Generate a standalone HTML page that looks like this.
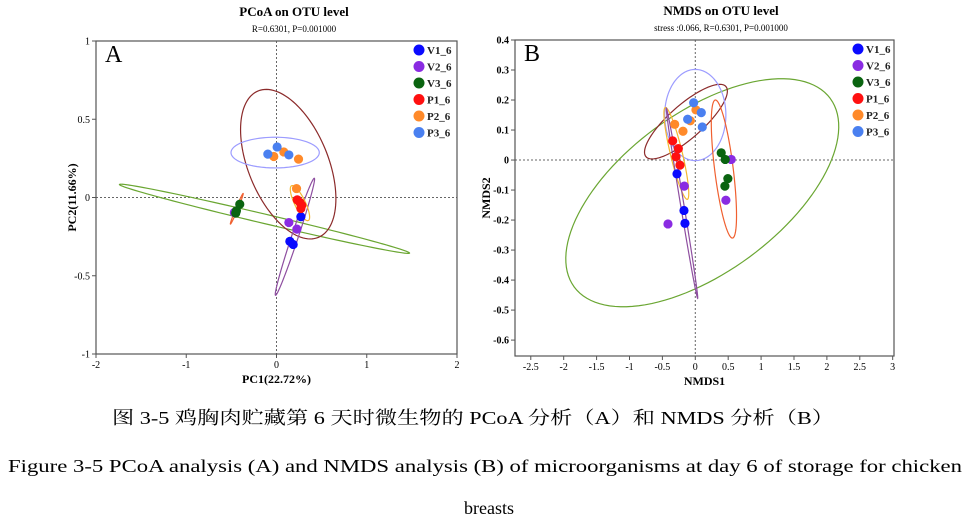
<!DOCTYPE html>
<html><head><meta charset="utf-8"><style>
html,body{margin:0;padding:0;background:#fff;}
svg{display:block;font-family:"Liberation Serif","Noto Serif CJK SC",serif;}
</style></head><body>
<svg id="fig" width="978" height="520" viewBox="0 0 978 520">
<g id="chartA"></g>
<g id="chartB"></g>
<text x="473" y="424" text-anchor="middle" font-size="18" textLength="722" lengthAdjust="spacingAndGlyphs">图 3-5  鸡胸肉贮藏第 6 天时微生物的 PCoA 分析（A）和 NMDS 分析（B）</text>
<text x="485" y="472" text-anchor="middle" font-size="18" textLength="954" lengthAdjust="spacingAndGlyphs">Figure 3-5 PCoA analysis (A) and NMDS analysis (B) of microorganisms at day 6 of storage for chicken</text>
<text x="489" y="514" text-anchor="middle" font-size="18">breasts</text>
</svg>
<script>
const groups = ["V1_6","V2_6","V3_6","P1_6","P2_6","P3_6"];
const groupColors = ["#0a0aff","#8a2be2","#0a6410","#ff1010","#ff8a2a","#4a80f0"];
// PCoA points
const pcoaX = [0.27,0.148,0.185, 0.137,0.226,-0.467, -0.407,-0.444,-0.452, 0.23,0.26,0.28,0.27, -0.03,0.081,0.244,0.222, -0.096,0.007,0.137];
const pcoaY = [-0.123,-0.28,-0.30, -0.16,-0.202,-0.096, -0.043,-0.085,-0.10, -0.015,-0.032,-0.05,-0.07, 0.262,0.291,0.245,0.057, 0.277,0.323,0.272];
const pcoaG = [0,0,0, 1,1,1, 2,2,2, 3,3,3,3, 4,4,4,4, 5,5,5];
// PCoA ellipses: center, semi-axis a, semi-axis b (data units)
const pcoaEllCx = [-0.133,0.13,-0.015,0.204,-0.44,0.26];
const pcoaEllCy = [-0.136,0.213,0.287,-0.251,-0.072,-0.036];
const pcoaEllA = [[1.607,-0.219],[-0.333,0.468],[0.489,0],[0.215,0.374],[0.07,0.098],[-0.093,0.111]];
const pcoaEllB = [[0.005,0.03],[0.41,0.096],[0,0.098],[0.035,-0.0066],[0.014,0.003],[0.053,0.015]];
const pcoaEllColor = ["#6aa632","#8b2a2a","#9c9cff","#8e4ea0","#f06030","#f4b830"];
const pcoaXTicks = [-2,-1,0,1,2];
const pcoaYTicks = [-1,-0.5,0,0.5,1];
const pcoaXTickLabels = ["-2","-1","0","1","2"];
const pcoaYTickLabels = ["-1","-0.5","0","0.5","1"];
// NMDS
const nmdsX = [-0.278,-0.172,-0.157, -0.167,-0.415,0.546,0.465, 0.394,0.455,0.495,0.45, -0.344,-0.258,-0.293,-0.233, 0.01,-0.076,-0.313,-0.187, -0.025,0.091,-0.116,0.106];
const nmdsY = [-0.046,-0.168,-0.211, -0.087,-0.213,0.002,-0.134, 0.024,0.002,-0.062,-0.087, 0.064,0.038,0.011,-0.017, 0.167,0.131,0.119,0.096, 0.191,0.158,0.136,0.11];
const nmdsG = [0,0,0, 1,1,1,1, 2,2,2,2, 3,3,3,3, 4,4,4,4, 5,5,5,5];
const nmdsEllCx = [0.106,-0.142,0,-0.288,0.435,-0.202];
const nmdsEllCy = [-0.109,0.128,0.15,0.022,-0.03,-0.144];
const nmdsEllA = [[1.946,0.314],[0.607,0.117],[0.465,0],[-0.167,0.153],[-0.131,0.23],[-0.238,0.317]];
const nmdsEllB = [[0.718,-0.214],[0.167,-0.042],[0,0.152],[0.088,0.0047],[0.14,0.0039],[0.025,0.0009]];
const nmdsEllColor = ["#6aa632","#8b2a2a","#9c9cff","#f4b830","#f06030","#8e4ea0"];
const nmdsXTicks = [-2.5,-2,-1.5,-1,-0.5,0,0.5,1,1.5,2,2.5,3];
const nmdsYTicks = [-0.6,-0.5,-0.4,-0.3,-0.2,-0.1,0,0.1,0.2,0.3,0.4];
const nmdsXTickLabels = ["-2.5","-2","-1.5","-1","-0.5","0","0.5","1","1.5","2","2.5","3"];
const nmdsYTickLabels = ["-0.6","-0.5","-0.4","-0.3","-0.2","-0.1","0","0.1","0.2","0.3","0.4"];

const NS="http://www.w3.org/2000/svg";
function mk(parent,tag,attrs,text){const e=document.createElementNS(NS,tag);for(const k in attrs)e.setAttribute(k,attrs[k]);if(text!==undefined)e.textContent=text;parent.appendChild(e);return e;}

function drawChart(g,cfg){
  const sx=v=>cfg.L+(v-cfg.x0)/(cfg.x1-cfg.x0)*(cfg.R-cfg.L);
  const sy=v=>cfg.B-(v-cfg.y0)/(cfg.y1-cfg.y0)*(cfg.B-cfg.T);
  let e=mk(g,'line',{x1:sx(0),x2:sx(0),y1:cfg.T,y2:cfg.B,stroke:'#666','stroke-dasharray':'2,2','stroke-width':1});
  
  e=mk(g,'line',{x1:cfg.L,x2:cfg.R,y1:sy(0),y2:sy(0),stroke:'#666','stroke-dasharray':'2,2','stroke-width':1});
  
  for(let i=0;i<cfg.ecx.length;i++){
    let d='';
    for(let k=0;k<=120;k++){const t=k/120*2*Math.PI;
      const x=cfg.ecx[i]+cfg.ea[i][0]*Math.cos(t)+cfg.eb[i][0]*Math.sin(t);
      const y=cfg.ecy[i]+cfg.ea[i][1]*Math.cos(t)+cfg.eb[i][1]*Math.sin(t);
      d+=(k?'L':'M')+sx(x).toFixed(2)+','+sy(y).toFixed(2);}
    e=mk(g,'path',{d:d+'Z',fill:'none',stroke:cfg.ec[i],'stroke-width':1.2});
    
  }
  for(let i=0;i<cfg.px.length;i++){
    e=mk(g,'circle',{cx:sx(cfg.px[i]),cy:sy(cfg.py[i]),r:4.6,fill:groupColors[cfg.pg[i]]});
    
  }
  e=mk(g,'rect',{x:cfg.L,y:cfg.T,width:cfg.R-cfg.L,height:cfg.B-cfg.T,fill:'none',stroke:'#555','stroke-width':1.2});
  
  cfg.xt.forEach((v,i)=>{
    mk(g,'line',{x1:sx(v),x2:sx(v),y1:cfg.B,y2:cfg.B+4,stroke:'#555'});
    e=mk(g,'text',{x:sx(v),y:cfg.B+14,'text-anchor':'middle','font-size':10},cfg.xtl[i]);
    
  });
  cfg.yt.forEach((v,i)=>{
    mk(g,'line',{x1:cfg.L-4,x2:cfg.L,y1:sy(v),y2:sy(v),stroke:'#555'});
    e=mk(g,'text',{x:cfg.L-6,y:sy(v)+3.5,'text-anchor':'end','font-size':10,'font-weight':cfg.boldY?'bold':'normal'},cfg.ytl[i]);
    
  });
  e=mk(g,'text',{x:cfg.tx,y:cfg.T-25,'text-anchor':'middle','font-size':13,'font-weight':'bold'},cfg.title);
  
  e=mk(g,'text',{x:cfg.tx,y:cfg.T-9,'text-anchor':'middle','font-size':9},cfg.sub);
  
  e=mk(g,'text',{x:(cfg.L+cfg.R)/2,y:cfg.B+29,'text-anchor':'middle','font-size':12,'font-weight':'bold'},cfg.xl);
  
  const yc=(cfg.T+cfg.B)/2;
  e=mk(g,'text',{x:cfg.ylx,y:yc,'text-anchor':'middle','font-size':12,'font-weight':'bold',transform:`rotate(-90 ${cfg.ylx} ${yc})`},cfg.yl);
  
  e=mk(g,'text',{x:cfg.L+9,y:cfg.T+21,'font-size':24},cfg.letter);
  
  groups.forEach((n,i)=>{
    const y=cfg.T+9+i*16.5;
    e=mk(g,'circle',{cx:cfg.lx,cy:y,r:5.5,fill:groupColors[i]});
    
    e=mk(g,'text',{x:cfg.lx+8,y:y+4,'font-size':11,'font-weight':'bold',fill:'#222'},n);
    
  });
}
drawChart(document.getElementById('chartA'),{L:96,R:457,T:41,B:354,x0:-2,x1:2,y0:-1,y1:1,
  px:pcoaX,py:pcoaY,pg:pcoaG,ecx:pcoaEllCx,ecy:pcoaEllCy,ea:pcoaEllA,eb:pcoaEllB,ec:pcoaEllColor,
  xt:pcoaXTicks,yt:pcoaYTicks,xtl:pcoaXTickLabels,ytl:pcoaYTickLabels,boldY:false,
  title:'PCoA on OTU level',sub:'R=0.6301, P=0.001000',tx:294,xl:'PC1(22.72%)',yl:'PC2(11.66%)',ylx:76,letter:'A',lx:419});
drawChart(document.getElementById('chartB'),{L:515,R:894,T:40,B:356,x0:-2.74,x1:3.02,y0:-0.653,y1:0.4,
  px:nmdsX,py:nmdsY,pg:nmdsG,ecx:nmdsEllCx,ecy:nmdsEllCy,ea:nmdsEllA,eb:nmdsEllB,ec:nmdsEllColor,
  xt:nmdsXTicks,yt:nmdsYTicks,xtl:nmdsXTickLabels,ytl:nmdsYTickLabels,boldY:true,
  title:'NMDS on OTU level',sub:'stress :0.066, R=0.6301, P=0.001000',tx:721,xl:'NMDS1',yl:'NMDS2',ylx:490,letter:'B',lx:858});
</script>
</body></html>
